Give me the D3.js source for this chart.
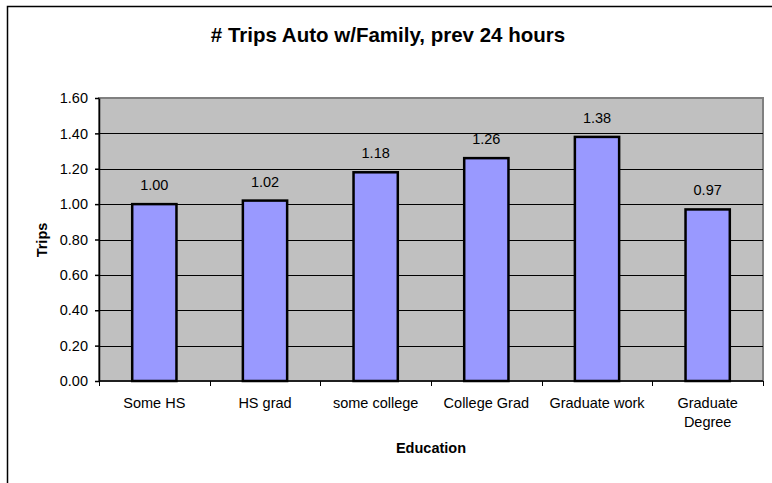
<!DOCTYPE html>
<html>
<head>
<meta charset="utf-8">
<title>Trips Auto w/Family</title>
<script src="https://d3js.org/d3.v7.min.js"></script>
<style>
body { margin: 0; background: #fff; }
text { font-family: "Liberation Sans", Arial, sans-serif; }
</style>
</head>
<body>
<div id="chart"></div>
<script>
var categories = [["Some HS"], ["HS grad"], ["some college"], ["College Grad"], ["Graduate work"], ["Graduate", "Degree"]];
var values = [1.00, 1.02, 1.18, 1.26, 1.38, 0.97];
var yTicks = [0, 0.2, 0.4, 0.6, 0.8, 1.0, 1.2, 1.4, 1.6];

var w = 772, h = 483,
    plotLeft = 99, plotRight = 763, plotTop = 98, plotBottom = 381;

var svg = d3.select("#chart").append("svg")
    .attr("width", w)
    .attr("height", h);

// outer frame
svg.append("rect")
    .attr("x", 7.5).attr("y", 6.5)
    .attr("width", 780).attr("height", 500)
    .attr("fill", "white")
    .attr("stroke", "black")
    .attr("stroke-width", 1.5);

var x = d3.scaleBand()
    .domain(d3.range(categories.length))
    .range([plotLeft, plotRight])
    .paddingInner(0.6)
    .paddingOuter(0.3);

var xEdge = d3.scaleLinear().domain([0, categories.length]).range([plotLeft, plotRight]);

var y = d3.scaleLinear().domain([0, 1.6]).range([plotBottom, plotTop]);

// plot area
svg.append("rect")
    .attr("x", plotLeft).attr("y", plotTop)
    .attr("width", plotRight - plotLeft).attr("height", plotBottom - plotTop)
    .attr("fill", "#c0c0c0")
    .attr("stroke", "#808080")
    .attr("stroke-width", 2);

// gridlines
svg.append("g").selectAll("line")
    .data(yTicks.filter(function(d){ return d > 0 && d < 1.6; }))
    .join("line")
    .attr("x1", plotLeft).attr("x2", plotRight)
    .attr("y1", function(d){ return Math.round(y(d)) + 0.5; })
    .attr("y2", function(d){ return Math.round(y(d)) + 0.5; })
    .attr("stroke", "black")
    .attr("stroke-width", 1);

// bars
svg.append("g").selectAll("rect")
    .data(values)
    .join("rect")
    .attr("x", function(d, i){ return x(i); })
    .attr("y", function(d){ return y(d); })
    .attr("width", x.bandwidth())
    .attr("height", function(d){ return y(0) - y(d); })
    .attr("fill", "#9999ff")
    .attr("stroke", "black")
    .attr("stroke-width", 2.5);

// value labels
svg.append("g").selectAll("text")
    .data(values)
    .join("text")
    .attr("x", function(d, i){ return x(i) + x.bandwidth() / 2; })
    .attr("y", function(d){ return y(d) - 14; })
    .attr("text-anchor", "middle")
    .attr("font-size", 14.5)
    .text(function(d){ return d.toFixed(2); });

// y axis
var yAxis = d3.axisLeft(y)
    .tickValues(yTicks)
    .tickSize(4)
    .tickSizeOuter(0)
    .tickPadding(7)
    .tickFormat(d3.format(".2f"));
var gy = svg.append("g")
    .attr("transform", "translate(" + plotLeft + ",0)")
    .call(yAxis);
gy.selectAll("text").attr("font-size", 14.5).attr("fill", "black")
    .style("font-family", "'Liberation Sans', Arial, sans-serif");
gy.selectAll("line, path").attr("stroke", "black").attr("stroke-width", 1.5);

// x axis
svg.append("line")
    .attr("x1", plotLeft).attr("x2", plotRight)
    .attr("y1", plotBottom).attr("y2", plotBottom)
    .attr("stroke", "black").attr("stroke-width", 1.5);
svg.append("g").selectAll("line")
    .data(d3.range(categories.length + 1))
    .join("line")
    .attr("x1", function(d){ return Math.round(xEdge(d)) + 0.5; })
    .attr("x2", function(d){ return Math.round(xEdge(d)) + 0.5; })
    .attr("y1", plotBottom).attr("y2", plotBottom + 5)
    .attr("stroke", "black");

svg.append("g").selectAll("text")
    .data(categories)
    .join("text")
    .attr("x", function(d, i){ return x(i) + x.bandwidth() / 2; })
    .attr("y", 408)
    .attr("text-anchor", "middle")
    .attr("font-size", 14.5)
    .each(function(d){
        var t = d3.select(this);
        d.forEach(function(line, k){
            t.append("tspan")
                .attr("x", t.attr("x"))
                .attr("dy", k === 0 ? 0 : 19)
                .text(line);
        });
    });

// titles
svg.append("text")
    .attr("x", 388).attr("y", 42)
    .attr("text-anchor", "middle")
    .attr("font-size", 20.5)
    .attr("font-weight", "bold")
    .text("# Trips Auto w/Family, prev 24 hours");

svg.append("text")
    .attr("x", (plotLeft + plotRight) / 2).attr("y", 453)
    .attr("text-anchor", "middle")
    .attr("font-size", 14.5)
    .attr("font-weight", "bold")
    .text("Education");

svg.append("text")
    .attr("transform", "translate(46.5,240) rotate(-90)")
    .attr("text-anchor", "middle")
    .attr("font-size", 14.5)
    .attr("font-weight", "bold")
    .text("Trips");
</script>
</body>
</html>
